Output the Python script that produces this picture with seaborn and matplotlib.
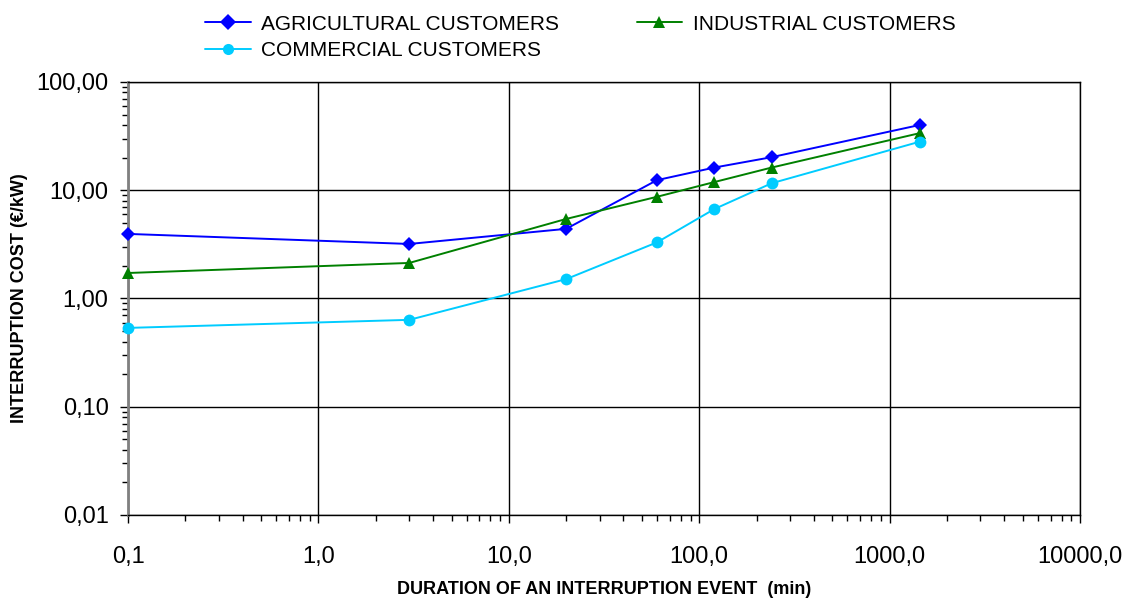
import pandas as pd
import seaborn as sns
import matplotlib.pyplot as plt
from matplotlib.ticker import FuncFormatter, LogLocator, NullFormatter

duration = [0.1, 3, 20, 60, 120, 240, 1440]
agricultural = [3.95, 3.19, 4.4, 12.4, 16.2, 20.2, 40.1]
industrial = [1.72, 2.13, 5.43, 8.7, 11.9, 16.2, 33.7]
commercial = [0.535, 0.635, 1.51, 3.3, 6.7, 11.6, 28.1]

names = ["AGRICULTURAL CUSTOMERS", "INDUSTRIAL CUSTOMERS", "COMMERCIAL CUSTOMERS"]
df = pd.concat([
    pd.DataFrame({"duration": duration, "cost": agricultural, "type": names[0]}),
    pd.DataFrame({"duration": duration, "cost": industrial, "type": names[1]}),
    pd.DataFrame({"duration": duration, "cost": commercial, "type": names[2]}),
])

sns.set_style("white")
plt.rcParams['font.family'] = ['Liberation Sans', 'DejaVu Sans']
plt.rcParams['text.color'] = 'black'
plt.rcParams['axes.labelcolor'] = 'black'

fig = plt.figure(figsize=(11.3, 5.98), dpi=100)
ax = fig.add_axes([0.1133, 0.1388, 0.8425, 0.7241])

palette = {names[0]: "#0000FF", names[1]: "#008000", names[2]: "#00CCFF"}
markers = {names[0]: "D", names[1]: "^", names[2]: "o"}
sizes = {names[0]: 7, names[1]: 8.5, names[2]: 8.5}

sns.lineplot(data=df, x="duration", y="cost", hue="type", style="type",
             palette=palette, markers=markers, dashes=False, markersize=8,
             markeredgewidth=0, linewidth=1.4, ax=ax, legend=True)
for line, n in zip(ax.lines, names):
    line.set_markersize(sizes[n])
    line.set_clip_on(False)
    line.set_zorder(3)

ax.set_xscale("log")
ax.set_yscale("log")
ax.set_xlim(0.1, 10000)
ax.set_ylim(0.01, 100)

ax.xaxis.set_major_locator(LogLocator(base=10, numticks=10))
ax.yaxis.set_major_locator(LogLocator(base=10, numticks=10))
ax.xaxis.set_minor_locator(LogLocator(base=10, subs=range(2, 10), numticks=20))
ax.yaxis.set_minor_locator(LogLocator(base=10, subs=range(2, 10), numticks=20))
ax.xaxis.set_minor_formatter(NullFormatter())
ax.yaxis.set_minor_formatter(NullFormatter())
ax.xaxis.set_major_formatter(FuncFormatter(lambda v, p: f"{v:.1f}".replace(".", ",")))
ax.yaxis.set_major_formatter(FuncFormatter(lambda v, p: f"{v:.2f}".replace(".", ",")))

ax.tick_params(which="major", direction="out", length=6, width=1, labelsize=17,
               color="black", labelcolor="black")
ax.tick_params(which="minor", direction="out", length=4, width=1, color="black")
ax.tick_params(axis="x", which="major", pad=16)
ax.tick_params(axis="y", which="major", pad=8)
ax.tick_params(axis="y", which="both", left=True)
ax.tick_params(axis="x", which="both", bottom=True)
ax.grid(True, which="major", color="black", linewidth=1)

for s in ax.spines.values():
    s.set_color("black")
    s.set_linewidth(1)
ax.spines["left"].set_color("#808080")
ax.spines["left"].set_linewidth(2)

ax.set_xlabel("DURATION OF AN INTERRUPTION EVENT  (min)", fontsize=13, fontweight="bold", labelpad=10)
ax.set_ylabel("INTERRUPTION COST (€/kW)", fontsize=13, fontweight="bold", labelpad=6)

handles, labels = ax.get_legend_handles_labels()
ax.get_legend().remove()
order = [names[0], names[2], names[1]]
h = [handles[labels.index(n)] for n in order]
fig.legend(h, order, loc="upper left", bbox_to_anchor=(0.165, 1.007), ncol=2,
           frameon=False, fontsize=15, handlelength=2.2, handletextpad=0.5,
           columnspacing=3.7, labelspacing=0.35)

plt.savefig("out.png", dpi=100)
